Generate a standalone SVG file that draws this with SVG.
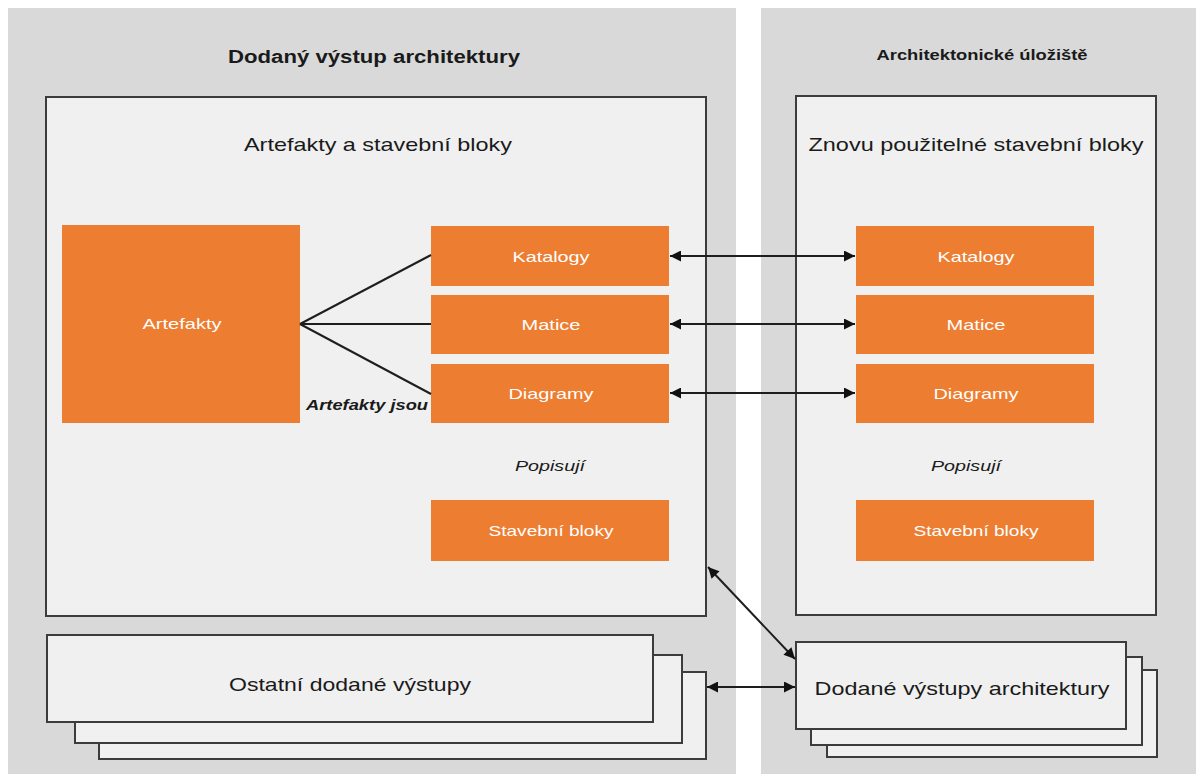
<svg xmlns="http://www.w3.org/2000/svg" width="1196" height="774" viewBox="0 0 1196 774">
<style>
.panel{fill:#d9d9d9}
.box{fill:#f0f0f0;stroke:#3c3c3c;stroke-width:2}
.org{fill:#ed7d31}
.t{font-family:"Liberation Sans",Arial,sans-serif;fill:#1a1a1a;text-anchor:middle}
.w{font-family:"Liberation Sans",Arial,sans-serif;fill:#ffffff;text-anchor:middle;font-size:15px}
.i{font-family:"Liberation Sans",Arial,sans-serif;fill:#1a1a1a;font-style:italic;font-size:15px;text-anchor:middle}
.ln{stroke:#1e1e1e;stroke-width:2;fill:none}
.ar{stroke:#1e1e1e;stroke-width:2;fill:none;marker-start:url(#ah);marker-end:url(#ah)}
</style>
<defs>
<marker id="ah" viewBox="0 0 10 10" refX="10" refY="5" markerWidth="13" markerHeight="11" orient="auto-start-reverse" markerUnits="userSpaceOnUse">
<path d="M0,0 L10,5 L0,10 z" fill="#111"/>
</marker>
</defs>
<rect width="1196" height="774" fill="#ffffff"/>
<g id="panel-left">
<rect class="panel" x="8" y="8" width="728" height="766"/>
<text class="t" x="374" y="63" font-size="18" font-weight="bold" textLength="292" lengthAdjust="spacingAndGlyphs">Dodaný výstup architektury</text>
</g>
<g id="panel-right">
<rect class="panel" x="761" y="8" width="435" height="766"/>
<text class="t" x="982" y="60" font-size="14" font-weight="bold" textLength="211" lengthAdjust="spacingAndGlyphs">Architektonické úložiště</text>
</g>
<g id="box-artefakty-stavebni">
<rect class="box" x="46" y="97" width="660" height="519"/>
<text class="t" x="378" y="151" font-size="19" textLength="268" lengthAdjust="spacingAndGlyphs">Artefakty a stavební bloky</text>
</g>
<g id="box-znovu">
<rect class="box" x="796" y="96" width="360" height="519"/>
<text class="t" x="976" y="151" font-size="19" textLength="335" lengthAdjust="spacingAndGlyphs">Znovu použitelné stavební bloky</text>
</g>
<g id="artefakty"><rect class="org" x="62" y="225" width="238" height="198"/><text class="w" x="182" y="329" textLength="79" lengthAdjust="spacingAndGlyphs">Artefakty</text></g>
<g id="katalogy-l"><rect class="org" x="431" y="226" width="238" height="60"/><text class="w" x="551" y="262" textLength="77" lengthAdjust="spacingAndGlyphs">Katalogy</text></g>
<g id="matice-l"><rect class="org" x="431" y="295" width="238" height="59"/><text class="w" x="551" y="330" textLength="59" lengthAdjust="spacingAndGlyphs">Matice</text></g>
<g id="diagramy-l"><rect class="org" x="431" y="364" width="238" height="59"/><text class="w" x="551" y="399" textLength="85" lengthAdjust="spacingAndGlyphs">Diagramy</text></g>
<g id="stavebni-l"><rect class="org" x="431" y="500" width="238" height="61"/><text class="w" x="551" y="536" textLength="125" lengthAdjust="spacingAndGlyphs">Stavební bloky</text></g>
<g id="katalogy-r"><rect class="org" x="856" y="226" width="238" height="60"/><text class="w" x="976" y="262" textLength="77" lengthAdjust="spacingAndGlyphs">Katalogy</text></g>
<g id="matice-r"><rect class="org" x="856" y="295" width="238" height="59"/><text class="w" x="976" y="330" textLength="59" lengthAdjust="spacingAndGlyphs">Matice</text></g>
<g id="diagramy-r"><rect class="org" x="856" y="364" width="238" height="59"/><text class="w" x="976" y="399" textLength="85" lengthAdjust="spacingAndGlyphs">Diagramy</text></g>
<g id="stavebni-r"><rect class="org" x="856" y="500" width="238" height="61"/><text class="w" x="976" y="536" textLength="125" lengthAdjust="spacingAndGlyphs">Stavební bloky</text></g>
<g id="label-artefakty-jsou"><text class="i" x="367" y="410" font-weight="bold" textLength="122" lengthAdjust="spacingAndGlyphs">Artefakty jsou</text></g>
<g id="label-popisuji-l"><text class="i" x="550" y="471" textLength="70" lengthAdjust="spacingAndGlyphs">Popisují</text></g>
<g id="label-popisuji-r"><text class="i" x="966" y="471" textLength="70" lengthAdjust="spacingAndGlyphs">Popisují</text></g>
<g id="ostatni">
<rect class="box" x="99" y="672" width="607" height="87"/>
<rect class="box" x="75" y="655" width="607" height="88"/>
<rect class="box" x="47" y="635" width="606" height="87"/>
<text class="t" x="350" y="691" font-size="19" textLength="242" lengthAdjust="spacingAndGlyphs">Ostatní dodané výstupy</text>
</g>
<g id="dodane-vystupy">
<rect class="box" x="827" y="670" width="330" height="87"/>
<rect class="box" x="811" y="657" width="331" height="88"/>
<rect class="box" x="796" y="642" width="330" height="87"/>
<text class="t" x="962" y="695" font-size="19" textLength="295" lengthAdjust="spacingAndGlyphs">Dodané výstupy architektury</text>
</g>
<g id="connectors">
<line class="ln" x1="300" y1="324" x2="431" y2="255"/>
<line class="ln" x1="300" y1="324" x2="431" y2="324"/>
<line class="ln" x1="300" y1="324" x2="431" y2="394"/>
<line class="ar" x1="670" y1="256" x2="855" y2="256"/>
<line class="ar" x1="670" y1="324" x2="855" y2="324"/>
<line class="ar" x1="670" y1="393" x2="855" y2="393"/>
<line class="ar" x1="708" y1="567" x2="795" y2="659"/>
<line class="ar" x1="707" y1="687" x2="795" y2="687"/>
</g>
</svg>
